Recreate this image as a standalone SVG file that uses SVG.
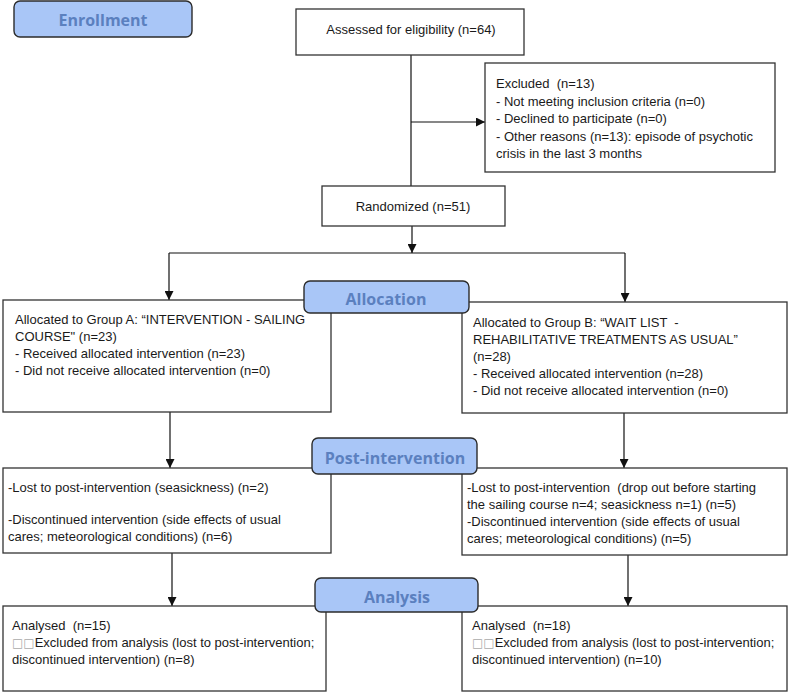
<svg xmlns="http://www.w3.org/2000/svg" width="788" height="692" viewBox="0 0 788 692">
<defs>
<marker id="arr" viewBox="0 0 10 10" refX="10" refY="5" markerWidth="9" markerHeight="9" markerUnits="userSpaceOnUse" orient="auto">
<path d="M0,0 L10,5 L0,10 Z" fill="#111"/>
</marker>
<style>
.box{fill:#fff;stroke:#333;stroke-width:1.3}
.lab{fill:#a9c6f7;stroke:#2b2b2b;stroke-width:1.4}
.lt{font-family:"Open Sans","DejaVu Sans",sans-serif;font-weight:bold;font-size:16px;fill:#5b80bf;text-anchor:middle}
.t{font-family:"Liberation Sans",Arial,sans-serif;font-size:13px;fill:#1a1a1a;white-space:pre}
.c{text-anchor:middle}
.tofu{font-family:"DejaVu Sans",sans-serif;font-size:12px;fill:#aaa}
.ln{stroke:#111;stroke-width:1.2;fill:none}
</style>
</defs>
<rect width="788" height="692" fill="#fff"/>

<g id="connectors">
<line class="ln" x1="411" y1="55" x2="411" y2="186"/>
<line class="ln" x1="411" y1="122" x2="485" y2="122" marker-end="url(#arr)"/>
<line class="ln" x1="412" y1="226" x2="412" y2="253" marker-end="url(#arr)"/>
<line class="ln" x1="169" y1="253" x2="625" y2="253"/>
<line class="ln" x1="169" y1="253" x2="169" y2="300" marker-end="url(#arr)"/>
<line class="ln" x1="625" y1="253" x2="625" y2="302" marker-end="url(#arr)"/>
<line class="ln" x1="170" y1="412" x2="170" y2="468" marker-end="url(#arr)"/>
<line class="ln" x1="624" y1="413" x2="624" y2="468" marker-end="url(#arr)"/>
<line class="ln" x1="172" y1="553" x2="172" y2="606" marker-end="url(#arr)"/>
<line class="ln" x1="628" y1="555" x2="628" y2="606" marker-end="url(#arr)"/>
</g>

<g id="assessed">
<rect class="box" x="296" y="9" width="228" height="46"/>
<text class="t c" x="411" y="34">Assessed for eligibility (n=64)</text>
</g>

<g id="excluded">
<rect class="box" x="485" y="63" width="290" height="109"/>
<text class="t" x="496" y="88">Excluded  (n=13)</text>
<text class="t" x="496" y="105.5">- Not meeting inclusion criteria (n=0)</text>
<text class="t" x="496" y="123">- Declined to participate (n=0)</text>
<text class="t" x="496" y="140.5">- Other reasons (n=13): episode of psychotic</text>
<text class="t" x="496" y="158">crisis in the last 3 months</text>
</g>

<g id="randomized">
<rect class="box" x="322" y="186" width="183" height="40"/>
<text class="t c" x="413" y="211">Randomized (n=51)</text>
</g>

<g id="groupA">
<rect class="box" x="3" y="300" width="328" height="112"/>
<text class="t" x="15" y="324">Allocated to Group A: “INTERVENTION - SAILING</text>
<text class="t" x="15" y="341">COURSE" (n=23)</text>
<text class="t" x="15" y="358">- Received allocated intervention (n=23)</text>
<text class="t" x="15" y="375">- Did not receive allocated intervention (n=0)</text>
</g>

<g id="groupB">
<rect class="box" x="462" y="302" width="325" height="111"/>
<text class="t" x="473" y="327">Allocated to Group B: “WAIT LIST  -</text>
<text class="t" x="473" y="344">REHABILITATIVE TREATMENTS AS USUAL”</text>
<text class="t" x="473" y="361">(n=28)</text>
<text class="t" x="473" y="378">- Received allocated intervention (n=28)</text>
<text class="t" x="473" y="394.5">- Did not receive allocated intervention (n=0)</text>
</g>

<g id="postA">
<rect class="box" x="3" y="468" width="328" height="85"/>
<text class="t" x="8" y="492">-Lost to post-intervention (seasickness) (n=2)</text>
<text class="t" x="8" y="524">-Discontinued intervention (side effects of usual</text>
<text class="t" x="8" y="541">cares; meteorological conditions) (n=6)</text>
</g>

<g id="postB">
<rect class="box" x="462" y="468" width="325" height="87"/>
<text class="t" x="467" y="492">-Lost to post-intervention  (drop out before starting</text>
<text class="t" x="467" y="509">the sailing course n=4; seasickness n=1) (n=5)</text>
<text class="t" x="467" y="526">-Discontinued intervention (side effects of usual</text>
<text class="t" x="467" y="543">cares; meteorological conditions) (n=5)</text>
</g>

<g id="analysisA">
<rect class="box" x="3" y="606" width="323" height="85"/>
<text class="t" x="12" y="630">Analysed  (n=15)</text>
<text class="t" x="12" y="647"><tspan class="tofu">□□</tspan>Excluded from analysis (lost to post-intervention;</text>
<text class="t" x="12" y="664">discontinued intervention) (n=8)</text>
</g>

<g id="analysisB">
<rect class="box" x="462" y="606" width="325" height="85"/>
<text class="t" x="472" y="630">Analysed  (n=18)</text>
<text class="t" x="472" y="647"><tspan class="tofu">□□</tspan>Excluded from analysis (lost to post-intervention;</text>
<text class="t" x="472" y="664">discontinued intervention) (n=10)</text>
</g>

<g id="enrollment">
<rect class="lab" x="14" y="1" width="178" height="36" rx="6"/>
<text class="lt" x="103" y="25.5">Enrollment</text>
</g>

<g id="allocation">
<rect class="lab" x="304" y="281" width="165" height="32" rx="6"/>
<text class="lt" x="386" y="304.5">Allocation</text>
</g>

<g id="postintervention">
<rect class="lab" x="312" y="438" width="165" height="36" rx="6"/>
<text class="lt" x="395" y="463.5">Post-intervention</text>
</g>

<g id="analysis">
<rect class="lab" x="315" y="578" width="163" height="34" rx="6"/>
<text class="lt" x="397" y="602.5">Analysis</text>
</g>
</svg>
